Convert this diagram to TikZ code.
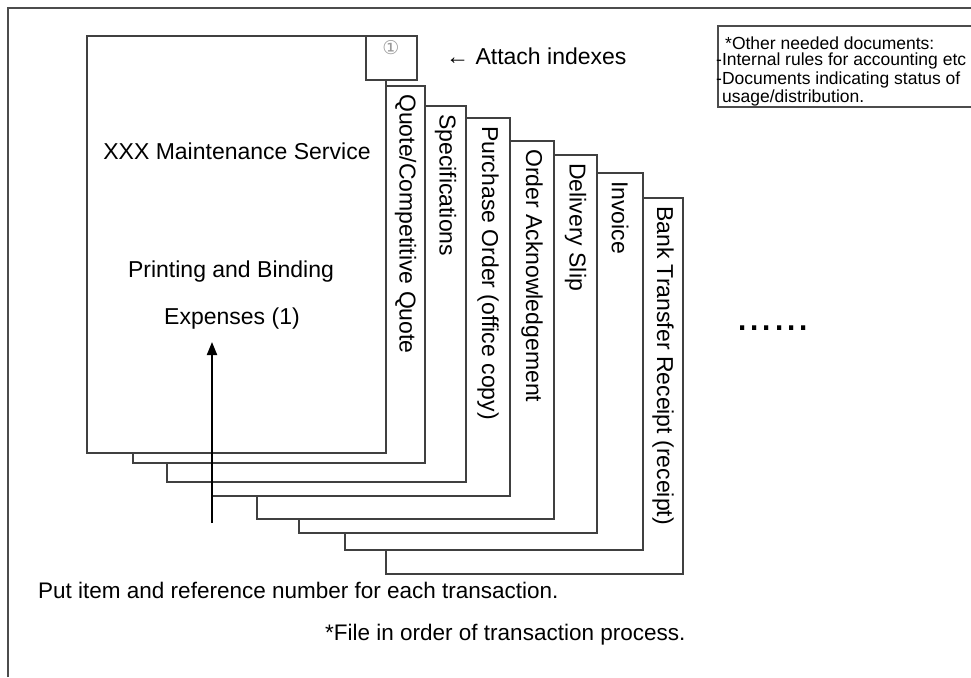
\documentclass[tikz,border=0pt]{standalone}
\usepackage{fontspec}
\setmainfont{Liberation Sans}
\newfontfamily\boxfont{Liberation Sans}
\newfontfamily\symfont{DejaVu Sans}
\usetikzlibrary{arrows.meta}

\begin{document}
\begin{tikzpicture}[x=1pt,y=-1pt,
  sheet/.style={draw=black!75,line width=1.6pt,fill=white},
  frameline/.style={draw=black!70,line width=2.4pt},
  notebox/.style={draw=black!70,line width=1.6pt},
  bigtext/.style={font=\fontsize{23}{27}\selectfont,inner sep=0pt},
  tabtext/.style={rotate=-90,anchor=west,inner sep=0pt,font=\fontsize{23}{27}\selectfont},
  boxtext/.style={anchor=west,inner sep=0pt,font=\boxfont\fontsize{17.5}{18}\selectfont},
  pointer/.style={draw=black,line width=2pt,-{Triangle[width=10pt,length=13pt]}}]
                    \useasboundingbox (0,0) rectangle (971,677);
                    \draw [frameline](8,677)--(8,8)--(971,8);
                    % sheets, back to front
                    \draw [sheet](386,198) rectangle (683,574);
                    \draw [sheet](345,173) rectangle (643,550);
                    \draw [sheet](299,155) rectangle (597,533);
                    \draw [sheet](257,141) rectangle (554,519);
                    \draw [sheet](212,118) rectangle (510,496);
                    \draw [sheet](167,106) rectangle (466,482);
                    \draw [sheet](133,86) rectangle (425,463);
                    \draw [sheet](87,36) rectangle (386,453);
                    \draw [sheet](366,36) rectangle (417,80);
                    \node [text=black!40,inner sep=0pt,font=\symfont\fontsize{19}{19}\selectfont] (index) at (391,48) {①};
                    % tab titles
                    \node [tabtext] (quote) at (405.5,94) {Quote/Competitive Quote};
                    \node [tabtext] (spec) at (445.5,114) {Specifications};
                    \node [tabtext] (purchase) at (488,126) {Purchase Order (office copy)};
                    \node [tabtext] (ack) at (532,149) {Order Acknowledgement};
                    \node [tabtext] (slip) at (575.5,163) {Delivery Slip};
                    \node [tabtext] (invoice) at (620,181) {Invoice};
                    \node [tabtext] (bank) at (663,206) {Bank Transfer Receipt (receipt)};
                    % front page
                    \node [bigtext] (service) at (237,151) {XXX Maintenance Service};
                    \node [bigtext] (printing) at (231,272) {Printing and Binding};
                    \node [bigtext] (expenses) at (232,319) {Expenses (1)};
                    \coordinate (foot) at (212,523);
                    \coordinate (tip) at (212,342);
                    \draw [pointer] (foot)--(tip);
                    \node [bigtext,anchor=west] (attach) at (446,56) {← Attach indexes};
                    % other documents
                    \draw [notebox](980,26)--(718,26)--(718,107)--(980,107);
                    \node [boxtext] (other) at (725,43) {*Other needed documents:};
                    \node [boxtext] (rules) at (716,61) {-Internal rules for accounting etc};
                    \node [boxtext] (status) at (716,79.5) {-Documents indicating status of};
                    \node [boxtext] (usage) at (722,97.5) {usage/distribution.};
                    \node [inner sep=0pt,font=\fontsize{44}{44}\selectfont] (more) at (773,328) {......};
                    % notes
                    \node [bigtext,anchor=west,font=\fontsize{22.5}{26}\selectfont] (put) at (38,590) {Put item and reference number for each transaction.};
                    \node [bigtext,anchor=west,font=\fontsize{22.5}{26}\selectfont] (order) at (325,635) {*File in order of transaction process.};
            \end{tikzpicture}
\end{document}
